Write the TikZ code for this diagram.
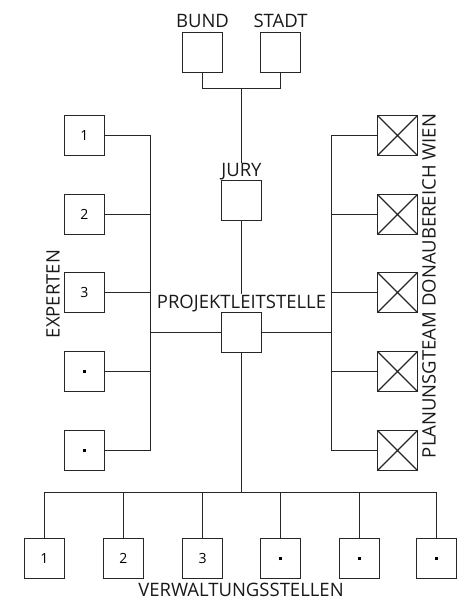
\documentclass[tikz,border=0pt]{standalone}
\usepackage{fontspec}
\setmainfont{Open Sans}
\tikzset{
  ln/.style={line width=1.3pt, draw=black!85},
  bx/.style={ln, minimum width=40pt, minimum height=40pt, inner sep=0pt, font=\fontsize{14}{16}\selectfont},
  xbx/.style={bx, path picture={\draw[line width=1.1pt,black!85] (path picture bounding box.north west) -- (path picture bounding box.south east) (path picture bounding box.north east) -- (path picture bounding box.south west);}},
  lbl/.style={inner sep=0pt, text=black!90, font=\fontsize{18.5}{22}\selectfont},
}
\newcommand{\dotmark}{\rule{3.5pt}{3.5pt}}
\begin{document}
\begin{tikzpicture}[x=1pt,y=-1pt]
\useasboundingbox (0,0) rectangle (457,599);
% top
\node[bx] (bund) at (202.5,52.5) {};
\node[bx] (stadt) at (280.5,52.5) {};
\node[lbl, anchor=base] (lbund) at (202.5,28) {BUND};
\node[lbl, anchor=base] (lstadt) at (280.5,28) {STADT};
\coordinate (tb) at (241.5,88.5);
\draw[ln] (bund.south) |- (tb) -| (stadt.south);
\node[bx] (jury) at (241.5,200.5) {};
\node[lbl, anchor=base] (ljury) at (241.5,176) {JURY};
\draw[ln] (tb) -- (ljury.north);
\node[bx] (plst) at (241.5,332.5) {};
\node[lbl, anchor=base] (lplst) at (241.5,308) {PROJEKTLEITSTELLE};
\draw[ln] (jury.south) -- (lplst.north);
% left experts
\node[bx] (e1) at (84.5,135.5) {1};
\node[bx] (e2) at (84.5,214.5) {2};
\node[bx] (e3) at (84.5,292.5) {3};
\node[bx] (e4) at (84.5,371.5) {\dotmark};
\node[bx] (e5) at (84.5,450.5) {\dotmark};
\coordinate (lb) at (150.5,0);
\draw[ln] (e1.east) -| (lb|-e5) -- (e5.east);
\draw[ln] (e2.east) -- (lb|-e2);
\draw[ln] (e3.east) -- (lb|-e3);
\draw[ln] (e4.east) -- (lb|-e4);
\node[lbl, rotate=90] (lexp) at (53,294) {EXPERTEN};
% right planning team
\node[xbx] (p1) at (397.5,135.5) {};
\node[xbx] (p2) at (397.5,214.5) {};
\node[xbx] (p3) at (397.5,292.5) {};
\node[xbx] (p4) at (397.5,371.5) {};
\node[xbx] (p5) at (397.5,450.5) {};
\coordinate (rb) at (331.5,0);
\draw[ln] (p1.west) -| (rb|-p5) -- (p5.west);
\draw[ln] (p2.west) -- (rb|-p2);
\draw[ln] (p3.west) -- (rb|-p3);
\draw[ln] (p4.west) -- (rb|-p4);
\node[lbl, rotate=90] (lplan) at (429,286) {PLANUNSGTEAM DONAUBEREICH WIEN};
% center horizontals
\draw[ln] (plst.west) -- (lb|-plst);
\draw[ln] (plst.east) -- (rb|-plst);
% bottom
\node[bx] (v1) at (44.5,558.5) {1};
\node[bx] (v2) at (123.5,558.5) {2};
\node[bx] (v3) at (202.5,558.5) {3};
\node[bx] (v4) at (280.5,558.5) {\dotmark};
\node[bx] (v5) at (359.5,558.5) {\dotmark};
\node[bx] (v6) at (436.5,558.5) {\dotmark};
\coordinate (bb) at (0,492.5);
\draw[ln] (plst.south) -- (plst|-bb);
\draw[ln] (v1.north) |- (v6|-bb) -- (v6.north);
\foreach \n in {v2,v3,v4,v5} \draw[ln] (\n.north) -- (\n|-bb);
\node[lbl, anchor=base] (lverw) at (241,596) {VERWALTUNGSSTELLEN};
\end{tikzpicture}
\end{document}
